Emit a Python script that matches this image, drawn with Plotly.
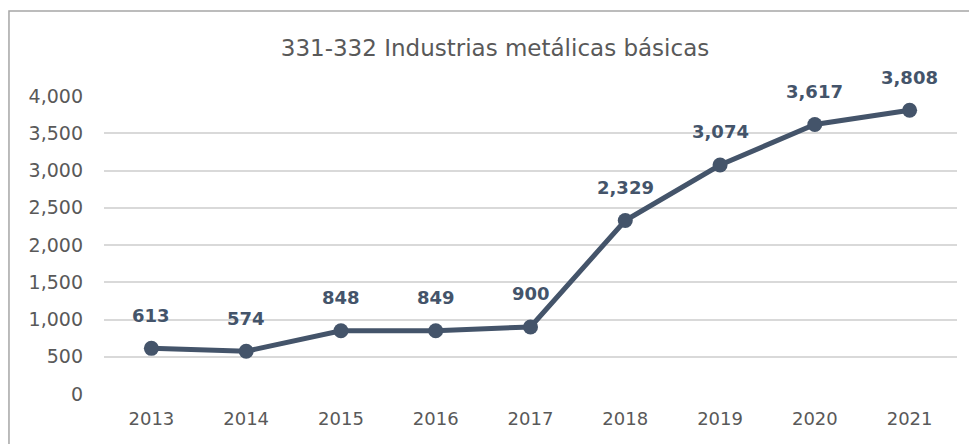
import plotly.graph_objects as go

years = ["2013", "2014", "2015", "2016", "2017", "2018", "2019", "2020", "2021"]
values = [613, 574, 848, 849, 900, 2329, 3074, 3617, 3808]
value_labels = ["613", "574", "848", "849", "900", "2,329", "3,074", "3,617", "3,808"]
title_text = "331-332 Industrias metálicas básicas"

LINE = "#44546A"
GRAY = "#595959"
FONT = "DejaVu Sans, sans-serif"

W, H = 969, 436

fig = go.Figure()
fig.add_trace(go.Scatter(
    x=years, y=values, mode="lines+markers",
    line=dict(color=LINE, width=5),
    marker=dict(color=LINE, size=15),
    hoverinfo="skip",
))

for i, (v, lab) in enumerate(zip(values, value_labels)):
    fig.add_annotation(x=i, y=v, xref="x", yref="y", text="<b>" + lab + "</b>",
                       showarrow=False, yshift=33,
                       font=dict(family=FONT, size=18, color=LINE))

fig.add_shape(type="rect", xref="paper", yref="paper",
              x0=-0.1114, x1=1.1, y0=-0.3, y1=1.2852,
              line=dict(color="#A6A6A6", width=1.5), fillcolor="rgba(0,0,0,0)", layer="below")

fig.update_layout(
    width=W, height=H,
    margin=dict(l=96, r=20, t=88, b=50),
    paper_bgcolor="white", plot_bgcolor="white",
    showlegend=False,
    font=dict(family=FONT, color=GRAY),
    title=dict(text=title_text, x=487/W, xanchor="center",
               y=1 - 40/H, yanchor="middle", yref="container",
               font=dict(family=FONT, size=23, color=GRAY)),
    xaxis=dict(type="category", range=[-0.5, 8.5], showgrid=False, zeroline=False,
               showline=False, ticks="", ticklabelstandoff=12,
               tickfont=dict(family=FONT, size=18, color=GRAY)),
    yaxis=dict(range=[0, 4000], dtick=500, tickformat=",d", showgrid=True,
               gridcolor="#D9D9D9", gridwidth=1.5, zeroline=False, showline=False,
               ticks="", ticklabelstandoff=20,
               tickfont=dict(family=FONT, size=19, color=GRAY)),
)

fig.write_html("out.html")
